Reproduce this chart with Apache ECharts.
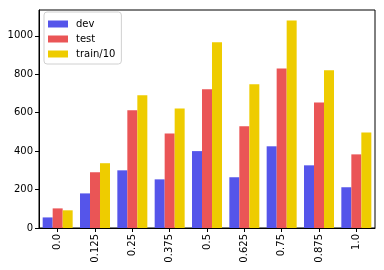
<!DOCTYPE html>
<html><head><meta charset="utf-8">
<script src="https://cdn.jsdelivr.net/npm/echarts@6/dist/echarts.min.js"></script>
<style>html,body{margin:0;padding:0;background:#fff}#c{width:384px;height:270px}</style>
</head><body><div id="c"></div>
<script>
const categories = ['0.0','0.125','0.25','0.375','0.5','0.625','0.75','0.875','1.0'];
const devValues = [55, 180, 300, 253, 400, 264, 425, 326, 212];
const testValues = [102, 290, 612, 492, 722, 529, 830, 653, 383];
const trainValues = [92, 337, 690, 622, 966, 748, 1080, 820, 497];
const yTicks = [0, 200, 400, 600, 800, 1000];
const names = ['dev', 'test', 'train/10'];
const colors = ['#5555ea', '#ea5556', '#eecc00'];

const chart = echarts.init(document.getElementById('c'), null, {renderer: 'canvas'});
const font = 'DejaVu Sans';
chart.setOption({
  animation: false,
  textStyle: {fontFamily: font},
  grid: {left: 39, right: 9, top: 10, bottom: 42, show: true, borderColor: '#000', borderWidth: 1, backgroundColor: 'transparent'},
  legend: {
    orient: 'vertical', left: 44, top: 12,
    data: names,
    itemWidth: 20, itemHeight: 7, itemGap: 3,
    padding: [6, 6, 4, 4],
    borderColor: '#d0d0d0', borderWidth: 1, borderRadius: 3,
    backgroundColor: 'rgba(255,255,255,0.8)',
    textStyle: {fontFamily: font, fontSize: 10, color: '#000', lineHeight: 12, padding: [0, 0, 0, 3]},
    icon: 'rect'
  },
  xAxis: {
    type: 'category', data: categories,
    axisLine: {show: true, lineStyle: {color: '#000', width: 1}},
    axisTick: {show: true, alignWithLabel: true, length: 4, lineStyle: {color: '#000'}},
    axisLabel: {rotate: 90, fontSize: 10, color: '#000', margin: 6, fontFamily: font},
    splitLine: {show: false}
  },
  yAxis: {
    type: 'value', min: 0, max: 1134,
    axisLine: {show: true, lineStyle: {color: '#000', width: 1}},
    axisTick: {show: true, length: 4, lineStyle: {color: '#000'}, customValues: yTicks},
    axisLabel: {fontSize: 10, color: '#000', margin: 6, fontFamily: font, customValues: yTicks, formatter: v => String(v)},
    splitLine: {show: false}
  },
  series: [
    {name: names[0], type: 'bar', data: devValues, itemStyle: {color: colors[0]}, barWidth: 10, barGap: '0%'},
    {name: names[1], type: 'bar', data: testValues, itemStyle: {color: colors[1]}, barWidth: 10, barGap: '0%'},
    {name: names[2], type: 'bar', data: trainValues, itemStyle: {color: colors[2]}, barWidth: 10, barGap: '0%'}
  ]
});
</script></body></html>
